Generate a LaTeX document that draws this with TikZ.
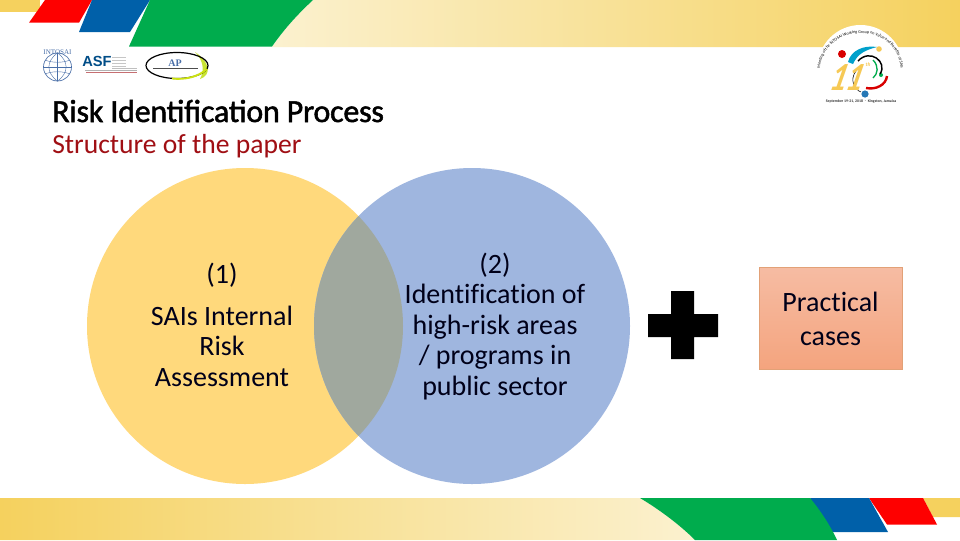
\documentclass[tikz,border=0pt]{standalone}
\usepackage{fontspec}
\setmainfont[Ligatures=NoCommon]{Carlito}
\newfontfamily\titlef[FakeBold=1.6,LetterSpace=-0.75]{Carlito}
\newfontfamily\sansf{Liberation Sans}
\newfontfamily\serf{Liberation Serif}
\usetikzlibrary{decorations.text}
\definecolor{cream}{HTML}{FBF1CF}
\definecolor{bandy}{HTML}{F5D15E}
\definecolor{gr}{HTML}{00AC4D}
\definecolor{bl}{HTML}{0060A9}
\definecolor{rd}{HTML}{FE0000}
\definecolor{cy}{HTML}{FFD97C}
\definecolor{cb}{HTML}{9FB6DF}
\definecolor{ov}{HTML}{A0A89E}
\definecolor{dred}{HTML}{A00F14}
\definecolor{boxtop}{HTML}{F6BCA3}
\definecolor{boxbot}{HTML}{F4A47E}
\definecolor{boxline}{HTML}{E2A177}
\definecolor{navy}{HTML}{4A6FA8}
\tikzset{
 x=0.75pt,y=-0.75pt,
 body/.style={font=\fontsize{21}{25}\selectfont,text=black!90!blue,inner sep=0pt,anchor=base},
 ring/.style={circle,minimum size=316*0.75pt,inner sep=0pt},
}
\begin{document}
\begin{tikzpicture}
\useasboundingbox (0,0) rectangle (960,540);
\fill[white] (0,0) rectangle (960,540);
% top band
\fill[bandy] (0,0) rectangle (40,12);
\shade[left color=cream,right color=bandy] (272,47) .. controls (285,28) and (298,14) .. (313,0) -- (960,0) -- (960,47) -- cycle;
\fill[rd] (29,22.7) -- (45,0) -- (92,0) -- (79,22.7) -- cycle;
\fill[bl] (79,32) -- (92,0) -- (150,0) -- (130,32) -- cycle;
\fill[gr] (129,46.5) -- (150,0) -- (313,0) .. controls (298,14) and (285,28) .. (272,46.5) -- cycle;
% bottom band
\shade[left color=bandy,right color=cream] (0,498) -- (640,498) .. controls (660,510) and (680,525) .. (695,540) -- (0,540) -- cycle;
\fill[bandy] (923,498) -- (960,498) -- (960,517) -- (933,517) -- cycle;
\fill[rd] (869,498) -- (923,498) -- (937,524.5) -- (887,524.5) -- cycle;
\fill[bl] (810,498) -- (869,498) -- (888,532) -- (830,532) -- cycle;
\fill[gr] (640,498) -- (810,498) .. controls (820,510) and (830,525) .. (837,540) -- (695,540) .. controls (680,525) and (660,510) .. (640,498) -- cycle;
% INTOSAI logo
\node[font=\serf\fontsize{5.3}{6}\selectfont,text=navy,inner sep=0pt] (lintosai) at (57.5,52.5) {INTOSAI};
\node[circle,draw=navy,line width=0.5pt,minimum size=21pt,inner sep=0pt] (lglobe) at (57.5,67) {};
\draw[navy,line width=0.3pt] (lglobe.north) -- (lglobe.south) (lglobe.west) -- (lglobe.east);
\draw[navy,line width=0.3pt] (lglobe.north) .. controls (46,62) and (46,72) .. (lglobe.south);
\draw[navy,line width=0.3pt] (lglobe.north) .. controls (69,62) and (69,72) .. (lglobe.south);
\draw[navy,line width=0.3pt] (45,60) .. controls (52,63) and (63,63) .. (70,60);
\draw[navy,line width=0.3pt] (45,74) .. controls (52,71) and (63,71) .. (70,74);
% ASF logo
\node[font=\sansf\bfseries\fontsize{11}{12}\selectfont,text=bl!80!black,inner sep=0pt] (lasf) at (97,61.5) {ASF};
\draw[gray!60,line width=0.7pt] (85,70.5) -- (137,70.5);
\draw[dred!60,line width=0.5pt] (86,72.5) -- (137,72.5);
\foreach \yy in {57,60,63,66}{\draw[gray!45,line width=0.4pt] (112,\yy) -- (126,\yy);}
\draw[gray!50,line width=0.5pt] (112,68.5) -- (137,68.5);
% AP logo
\fill[yellow!75!green!85!white] (195,52) .. controls (210,62) and (212,75) .. (200,79) .. controls (205,70) and (203,60) .. (195,52) -- cycle;
\draw[black,line width=0.9pt] (177,65.5) ellipse (31 and 13);
\draw[yellow!80!green,line width=1.4pt] (172,78.5) .. controls (185,80) and (198,77) .. (207,69);
\node[font=\serf\bfseries\fontsize{7.5}{8}\selectfont,text=navy,inner sep=0pt] (lap) at (175,63) {AP};
\draw[black!70,line width=0.7pt] (153,68.5) -- (198,68.5);
% meeting logo
\fill[white] (860.5,68) circle (43);
\path[decorate,decoration={text along path,raise=0.5pt,text align=center,
  text={|\fontsize{3.1}{4}\selectfont|Meeting of the INTOSAI Working Group on Value and Benefits of SAIs}}]
  (821,84) .. controls (810,18) and (912,16) .. (899,84);
\fill[rd!85!black] (842,54) circle (4);
\fill[bl!85!white] (865,94) circle (3.6);
\fill[bandy!90!orange] (879,49) circle (2.8);
\fill[gr] (881,75) circle (2);
\fill[bl!60!cyan] (848,62) .. controls (851,50) and (864,45) .. (877,47) .. controls (866,50) and (858,53) .. (853,64) -- cycle;
\draw[black,line width=1.1pt] (858,61) .. controls (870,48) and (888,62) .. (880,74);
\draw[gr,line width=1pt] (873,60) .. controls (879,66) and (878,74) .. (873,78);
\draw[rd!85!black,line width=1.8pt] (866,88) .. controls (876,90) and (886,85) .. (887,76);
\draw[black,line width=0.4pt] (856,71) .. controls (849,80) and (855,90) .. (861,92);
\node[font=\bfseries\itshape\fontsize{30}{30}\selectfont,text=bandy!90!orange,inner sep=0pt,xslant=0.25,xscale=0.8] (leleven) at (848,78) {11};
\node[font=\bfseries\itshape\fontsize{4}{4}\selectfont,text=bandy!90!orange,inner sep=0pt] (lth) at (868,65) {th};
\node[font=\fontsize{2.9}{3}\selectfont\bfseries,text=black!80,inner sep=0pt] (ldate) at (861,101.5) {September 19-21, 2018 $\cdot$ Kingston, Jamaica};
% titles
\node[anchor=base west,inner sep=0pt,font=\titlef\fontsize{24}{28}\selectfont,text=black] (title) at (52,122) {Risk Identification Process};
\node[anchor=base west,inner sep=0pt,font=\fontsize{20.7}{24}\selectfont,text=dred] (subtitle) at (52,153) {Structure of the paper};
% circles
\node[ring,fill=cy] (c1) at (245,326) {};
\node[ring,fill=cb] (c2) at (472,326) {};
\begin{scope}
 \clip (245,326) circle (158);
 \fill[ov] (472,326) circle (158);
\end{scope}
% circle text
\node[body] (t1a) at (222,283) {(1)};
\node[body] (t1b) at (222,325) {SAIs Internal};
\node[body] (t1c) at (222,355) {Risk};
\node[body] (t1d) at (222,386) {Assessment};
\node[body] (t2a) at (495,273) {(2)};
\node[body] (t2b) at (495,303) {Identification of};
\node[body] (t2c) at (495,334) {high-risk areas};
\node[body] (t2d) at (495,364) {/ programs in};
\node[body] (t2e) at (495,395) {public sector};
% plus
\fill[black] (671,291) -- (694,291) -- (694,314) -- (718,314) -- (718,337) -- (694,337) -- (694,359) -- (671,359) -- (671,337) -- (648,337) -- (648,314) -- (671,314) -- cycle;
% practical cases
\draw[boxline,line width=0.75pt,top color=boxtop,bottom color=boxbot] (759,267) rectangle (902,369);
\node[body] (p1) at (830.5,311) {Practical};
\node[body] (p2) at (830.5,345) {cases};
\end{tikzpicture}
\end{document}
